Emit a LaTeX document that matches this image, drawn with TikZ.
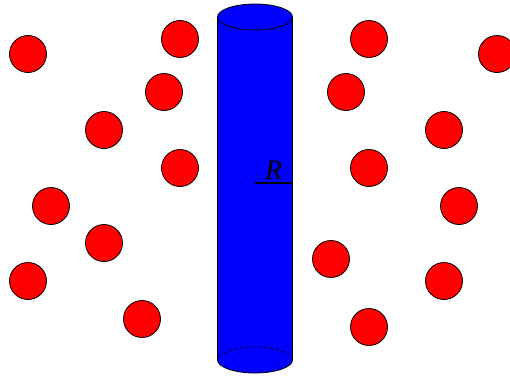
\documentclass[tikz,border=0pt]{standalone}
\usepackage{fontspec}
\setmainfont{Liberation Serif}
\begin{document}
\begin{tikzpicture}[x=1pt,y=1pt,line width=0.8pt]
\tikzset{ball/.style={circle,draw,fill=red,minimum size=37pt,inner sep=0pt}}
\clip (0,0) rectangle (510,376);
% the cylinder
\fill[blue] (217.5,16) rectangle (292.5,359);
\fill[blue] (255,16) ellipse [x radius=37.5,y radius=13];
\draw (217.5,16) -- (217.5,359);
\draw (292.5,16) -- (292.5,359);
\draw (292.5,16) arc [start angle=0,end angle=-180,x radius=37.5,y radius=13];
\draw[dashed] (292.5,16) arc [start angle=0,end angle=180,x radius=37.5,y radius=13];
\draw[fill=blue] (255,359) ellipse [x radius=37.5,y radius=13];
% radius
\coordinate (axis) at (255,193);
\coordinate (rim) at (292.5,193);
\draw[line width=1.5pt] (axis) -- node[above,inner sep=3pt] {\fontsize{28}{30}\selectfont\textit{R}} (rim);
% particles, left side
\node[ball] (p1) at (28,322) {};
\node[ball] (p2) at (180,337) {};
\node[ball] (p3) at (164,284) {};
\node[ball] (p4) at (104,246) {};
\node[ball] (p5) at (180,208) {};
\node[ball] (p6) at (51,170) {};
\node[ball] (p7) at (104,133) {};
\node[ball] (p8) at (28,95) {};
\node[ball] (p9) at (142,57) {};
% particles, right side
\node[ball] (p10) at (369,337) {};
\node[ball] (p11) at (497,322) {};
\node[ball] (p12) at (346,284) {};
\node[ball] (p13) at (444,246) {};
\node[ball] (p14) at (369,208) {};
\node[ball] (p15) at (459,170) {};
\node[ball] (p16) at (331,117) {};
\node[ball] (p17) at (444,95) {};
\node[ball] (p18) at (369,49) {};
\end{tikzpicture}
\end{document}
